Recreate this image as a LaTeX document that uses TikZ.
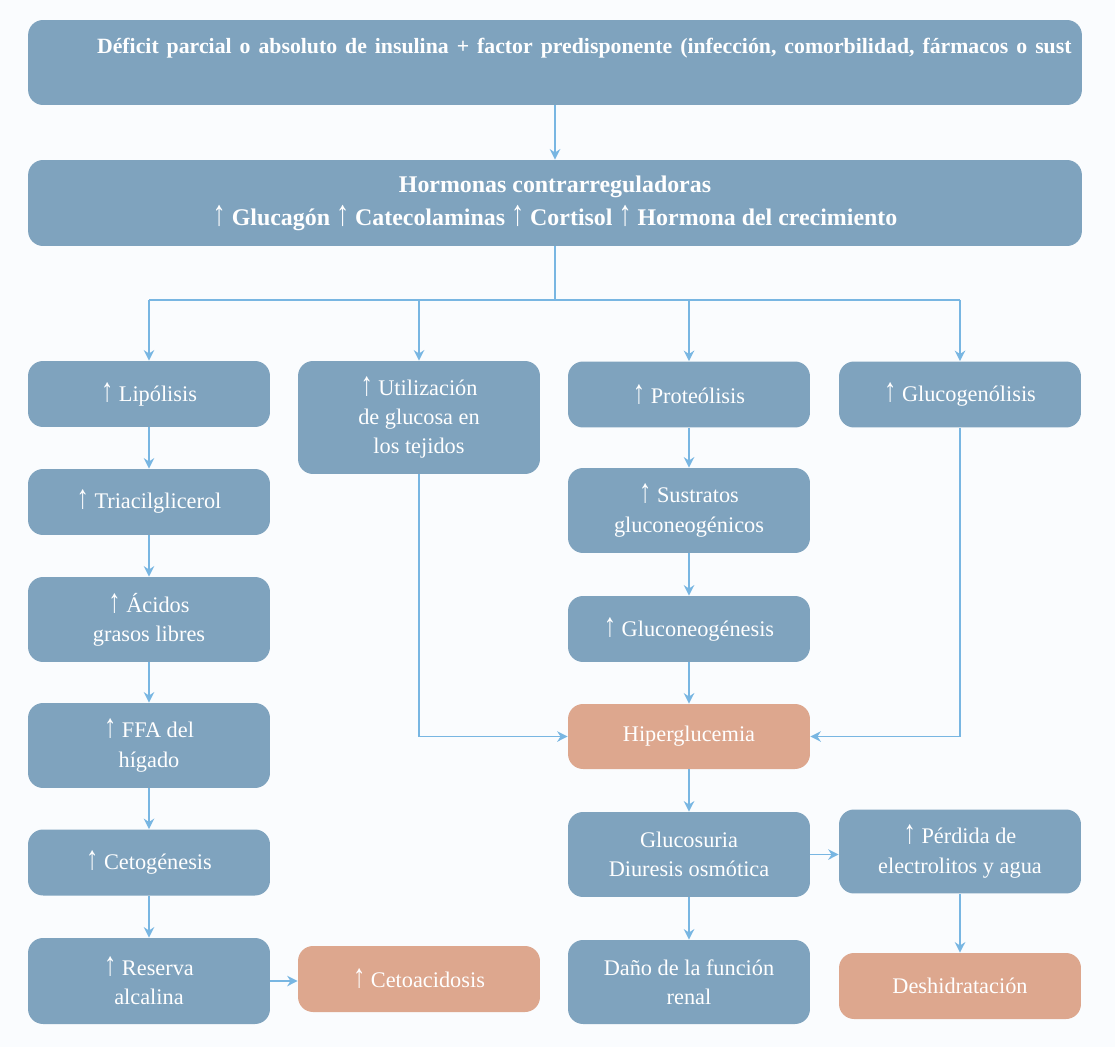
\documentclass[tikz,border=0pt]{standalone}
\usepackage{fontspec}
\usepackage{graphicx}
\setmainfont{Liberation Serif}
\newcommand\sube{\scalebox{1.1}[1.5]{↑}}
\usetikzlibrary{arrows.meta}
\definecolor{azulcaja}{RGB}{127,163,190}
\definecolor{naranja}{RGB}{221,167,142}
\definecolor{flecha}{RGB}{120,182,226}
\definecolor{fondo}{RGB}{250,252,254}
\tikzset{
  caja/.style={rectangle, rounded corners=0.3cm, fill=azulcaja, text=white, align=center,
    minimum width=4.84cm, minimum height=1.32cm, inner sep=0pt,
    font=\fontsize{12.7}{16.7}\selectfont},
  alerta/.style={caja, fill=naranja},
  ancha/.style={caja, minimum width=21.08cm, minimum height=1.7cm,
    font=\bfseries\fontsize{13.6}{18.7}\selectfont},
  flec/.style={draw=flecha, line width=0.9pt, -{Stealth[length=6pt,width=6pt]}},
  linea/.style={draw=flecha, line width=0.9pt}
}
\begin{document}
\begin{tikzpicture}[x=0.02cm, y=-0.02cm]
    % Fondo
    \fill[fondo] (0,0) rectangle (1115,1047);
    \useasboundingbox (0,0) rectangle (1115,1047);
    % Cajas superiores
    \node[ancha, text width=20.8cm, align=left] (deficit) at (555,62.5)
      {\hspace*{1.24cm}\mbox{\fontsize{12.4}{18.7}\selectfont Déficit parcial o absoluto de insulina + factor predisponente (infección, comorbilidad, fármacos o sust}\\ \mbox{}};
    \node[ancha, minimum height=1.72cm] (hormonas) at (555,203)
      {Hormonas contrarreguladoras\\ \sube{} Glucagón \sube{} Catecolaminas \sube{} Cortisol \sube{} Hormona del crecimiento};
    % Primera fila
    \node[caja] (lipo) at (149,394) {\sube{} Lipólisis};
    \node[caja, minimum height=2.26cm] (utiliz) at (419,417.5) {\sube{} Utilización\\ de glucosa en\\ los tejidos};
    \node[caja] (proteo) at (689,394.5) {\sube{} Proteólisis};
    \node[caja] (glucog) at (960,394.5) {\sube{} Glucogenólisis};
    % Columna izquierda
    \node[caja] (triacil) at (149,502) {\sube{} Triacilglicerol};
    \node[caja, minimum height=1.7cm] (acidos) at (149,619.5) {\sube{} Ácidos\\ grasos libres};
    \node[caja, minimum height=1.7cm] (ffa) at (149,745.5) {\sube{} FFA del\\ hígado};
    \node[caja] (cetog) at (149,862.5) {\sube{} Cetogénesis};
    \node[caja, minimum height=1.72cm] (reserva) at (149,981) {\sube{} Reserva\\ alcalina};
    \node[alerta] (cetoac) at (419,979) {\sube{} Cetoacidosis};
    % Columna central
    \node[caja, minimum height=1.7cm] (sustr) at (689,510.5) {\sube{} Sustratos\\ gluconeogénicos};
    \node[caja] (gneo) at (689,629) {\sube{} Gluconeogénesis};
    \node[alerta, minimum height=1.3cm] (hiper) at (689,736.5) {Hiperglucemia};
    \node[caja, minimum height=1.7cm] (glucos) at (689,854.5) {Glucosuria\\ Diuresis osmótica};
    \node[caja, minimum height=1.68cm] (dano) at (689,982) {Daño de la función\\ renal};
    % Columna derecha
    \node[caja, minimum height=1.68cm] (perdida) at (960,851.5) {\sube{} Pérdida de\\ electrolitos y agua};
    \node[alerta] (deshid) at (960,986) {Deshidratación};
    % Conexiones
    \draw[flec] (deficit) -- (hormonas);
    \coordinate (rama) at (555,300);
    \draw[linea] (hormonas.south) -- (rama);
    \draw[linea] (rama -| lipo) -- (rama -| glucog);
    \foreach \n in {lipo,utiliz,proteo,glucog}
      \draw[flec] (rama -| \n) -- (\n.north);
    \draw[flec] (lipo) -- (triacil);
    \draw[flec] (triacil) -- (acidos);
    \draw[flec] (acidos) -- (ffa);
    \draw[flec] (ffa) -- (cetog);
    \draw[flec] (cetog) -- (reserva);
    \draw[flec] (reserva.east) -- (reserva.east -| cetoac.west);
    \draw[flec] (proteo) -- (sustr);
    \draw[flec] (sustr) -- (gneo);
    \draw[flec] (gneo) -- (hiper);
    \draw[flec] (utiliz.south) |- (hiper.west);
    \draw[flec] (glucog.south) |- (hiper.east);
    \draw[flec] (hiper) -- (glucos);
    \draw[flec] (glucos.east) -- (glucos.east -| perdida.west);
    \draw[flec] (glucos) -- (dano);
    \draw[flec] (perdida) -- (deshid);
\end{tikzpicture}
\end{document}
